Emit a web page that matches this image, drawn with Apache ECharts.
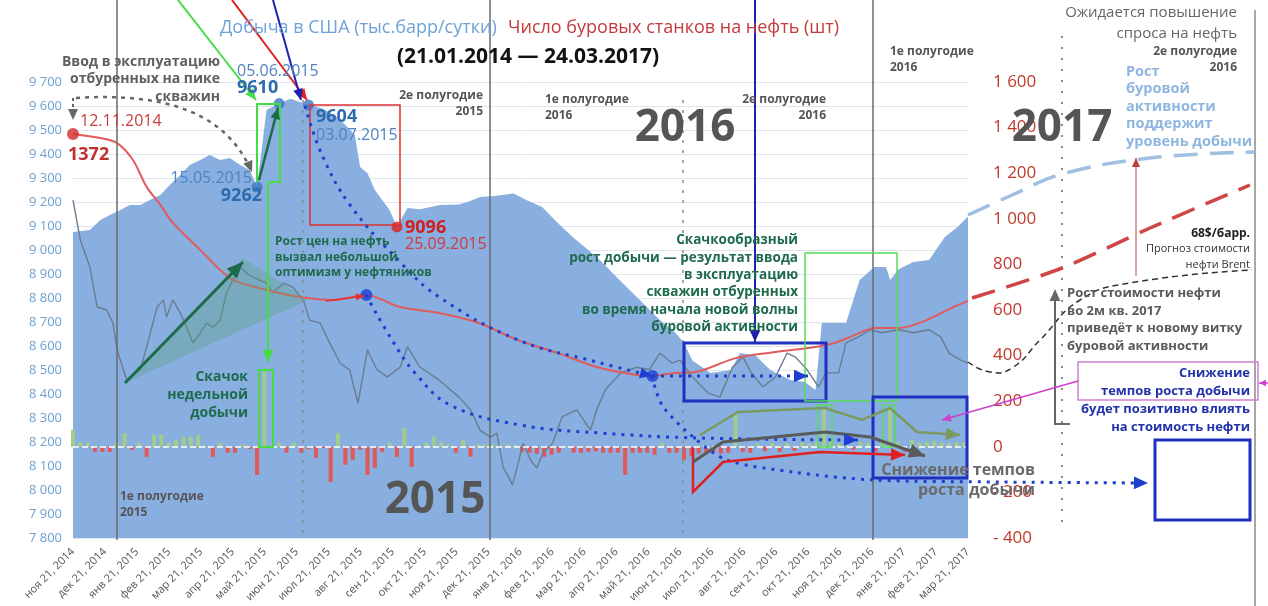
<!DOCTYPE html>
<html>
<head>
<meta charset="utf-8">
<script src="https://cdn.jsdelivr.net/npm/echarts@6.0.0/dist/echarts.min.js"></script>
<style>
  html, body { margin: 0; padding: 0; background: #fff; }
  #chart { width: 1268px; height: 606px; }
</style>
</head>
<body>
<div id="chart"></div>
<script>
const tickLabels = [
  "ноя 21, 2014", "дек 21, 2014", "янв 21, 2015", "фев 21, 2015", "мар 21, 2015",
  "апр 21, 2015", "май 21, 2015", "июн 21, 2015", "июл 21, 2015", "авг 21, 2015",
  "сен 21, 2015", "окт 21, 2015", "ноя 21, 2015", "дек 21, 2015", "янв 21, 2016",
  "фев 21, 2016", "мар 21, 2016", "апр 21, 2016", "май 21, 2016", "июн 21, 2016",
  "июл 21, 2016", "авг 21, 2016", "сен 21, 2016", "окт 21, 2016", "ноя 21, 2016",
  "дек 21, 2016", "янв 21, 2017", "фев 21, 2017", "мар 21, 2017",
];

// US crude production, thousand barrels per day
const prodDates = [
  "2014-11-21", "2014-12-07", "2014-12-17", "2014-12-26", "2015-01-05", "2015-01-14",
  "2015-01-24", "2015-02-02", "2015-02-12", "2015-02-21", "2015-03-03", "2015-03-12",
  "2015-03-22", "2015-03-31", "2015-04-10", "2015-04-19", "2015-04-29", "2015-05-08",
  "2015-05-15", "2015-05-24", "2015-06-05", "2015-06-16", "2015-07-03", "2015-07-09",
  "2015-07-19", "2015-07-28", "2015-08-07", "2015-08-16", "2015-08-21", "2015-08-28",
  "2015-09-04", "2015-09-18", "2015-09-25", "2015-10-05", "2015-10-17", "2015-11-05",
  "2015-11-23", "2015-12-01", "2015-12-13", "2015-12-27", "2016-01-14", "2016-01-26",
  "2016-02-10", "2016-02-25", "2016-03-10", "2016-04-02", "2016-04-17", "2016-05-10",
  "2016-06-01", "2016-06-16", "2016-06-24", "2016-07-02", "2016-07-19", "2016-08-08",
  "2016-08-16", "2016-08-31", "2016-09-14", "2016-10-03", "2016-10-17", "2016-10-27",
  "2016-11-02", "2016-11-25", "2016-12-08", "2016-12-22", "2017-01-02", "2017-01-06",
  "2017-01-14", "2017-01-28", "2017-02-12", "2017-02-27", "2017-03-11", "2017-03-21",
];
const prodValues = [
  9075, 9083, 9125, 9146, 9167, 9187, 9187, 9208, 9229, 9271, 9312, 9354,
  9375, 9396, 9375, 9383, 9354, 9333, 9262, 9583, 9610, 9630, 9604, 9600,
  9583, 9560, 9521, 9479, 9346, 9320, 9250, 9167, 9096, 9175, 9170, 9187,
  9190, 9200, 9221, 9225, 9235, 9208, 9179, 9113, 9054, 8971, 8904, 8804,
  8708, 8654, 8612, 8540, 8487, 8500, 8571, 8560, 8500, 8458, 8450, 8417,
  8696, 8696, 8875, 8929, 8929, 8875, 8920, 8950, 8958, 9054, 9096, 9140,
];

// oil rig count
const rigDates = [
  "2014-11-21", "2014-12-17", "2015-01-02", "2015-01-17", "2015-01-30", "2015-02-12",
  "2015-02-24", "2015-03-22", "2015-04-07", "2015-04-22", "2015-05-24", "2015-06-25",
  "2015-07-26", "2015-08-27", "2015-09-28", "2015-11-04", "2015-12-12", "2016-01-18",
  "2016-02-25", "2016-04-02", "2016-05-10", "2016-05-25", "2016-06-16", "2016-07-05",
  "2016-08-12", "2016-09-19", "2016-10-27", "2016-11-14", "2016-12-03", "2016-12-22",
  "2017-01-14", "2017-02-05", "2017-03-07", "2017-03-21",
];
const rigValues = [
  1372, 1354, 1332, 1258, 1140, 1061, 982, 863, 789, 732, 688, 657,
  644, 666, 613, 587, 543, 468, 411, 350, 315, 311, 324, 328,
  389, 416, 438, 455, 490, 521, 521, 547, 613, 640,
];

// Brent price, $ per barrel
const priceDates = [
  "2014-11-21", "2014-11-28", "2014-12-07", "2014-12-14", "2014-12-23", "2014-12-29",
  "2015-01-02", "2015-01-08", "2015-01-11", "2015-01-24", "2015-01-30", "2015-02-09",
  "2015-02-15", "2015-02-18", "2015-02-24", "2015-03-03", "2015-03-09", "2015-03-15",
  "2015-03-22", "2015-03-28", "2015-04-03", "2015-04-10", "2015-04-16", "2015-04-22",
  "2015-04-29", "2015-05-05", "2015-05-11", "2015-05-24", "2015-05-30", "2015-06-09",
  "2015-06-18", "2015-06-28", "2015-07-04", "2015-07-14", "2015-07-23", "2015-08-02",
  "2015-08-11", "2015-08-19", "2015-08-28", "2015-09-06", "2015-09-16", "2015-09-28",
  "2015-10-05", "2015-10-17", "2015-11-04", "2015-11-23", "2015-12-04", "2015-12-13",
  "2015-12-23", "2015-12-29", "2016-01-04", "2016-01-13", "2016-01-23", "2016-01-30",
  "2016-02-05", "2016-02-11", "2016-02-20", "2016-02-29", "2016-03-08", "2016-03-14",
  "2016-03-27", "2016-04-02", "2016-04-10", "2016-04-25", "2016-05-10", "2016-05-22",
  "2016-06-01", "2016-06-13", "2016-06-20", "2016-07-02", "2016-07-17", "2016-07-28",
  "2016-08-09", "2016-08-19", "2016-08-27", "2016-09-07", "2016-09-19", "2016-09-30",
  "2016-10-08", "2016-10-19", "2016-10-30", "2016-11-06", "2016-11-18", "2016-11-25",
  "2016-12-07", "2016-12-18", "2016-12-29", "2017-01-14", "2017-01-28", "2017-02-12",
  "2017-02-23", "2017-03-03", "2017-03-14", "2017-03-21",
];
const priceValues = [
  81.7, 73.8, 68.5, 60.6, 60.0, 57.4, 52.1, 48.2, 46.2, 48.2, 52.7, 60.6,
  62.0, 58.6, 62.0, 59.4, 56.6, 53.5, 55.5, 57.4, 56.6, 58.0, 63.4, 65.9,
  68.5, 67.3, 66.5, 65.3, 63.4, 65.3, 64.5, 62.0, 58.0, 57.4, 53.5, 49.5,
  48.2, 41.6, 52.1, 48.2, 46.8, 48.7, 52.7, 48.7, 46.2, 42.8, 40.3, 36.3,
  34.9, 35.7, 29.0, 25.5, 33.7, 30.4, 28.8, 31.8, 33.7, 38.9, 39.7, 40.3,
  36.3, 40.3, 44.2, 47.6, 48.7, 48.2, 51.5, 49.5, 50.1, 46.8, 43.6, 42.8,
  48.7, 50.7, 47.6, 44.8, 46.8, 51.5, 50.7, 48.2, 44.8, 47.6, 47.6, 53.5,
  54.7, 56.1, 55.5, 56.1, 55.5, 56.1, 54.7, 51.5, 50.1, 49.5,
];

// weekly change of production, from 2014-11-21
const barStart = "2014-11-21";
const barValues = [
  75, 22, 18, -22, -22, -22, 20, 60, -13, 18, -44, 52, 52, 18, 30, 44, 44, 52, 5, -44, 18,
  -26, -26, 10, -9, -123, 340, 8, 18, -26, 18, -26, -10, -48, -5, -154, 61, -79, -57, -13, -123, -92,
  -22, 18, -44, 83, -88, 5, 18, 44, 22, 10, -26, 31, -44, 10, 10, 10, 10, 10, 8, -22,
  -26, -31, -44, -35, -26, 5, -26, -26, -22, -20, -26, -26, -26, -123, -26, -26, -26, -35, 18, -26, -26, -57,
  -40, -30, -26, -22, -30, -26, 150, -22, -26, 15, -20, 18, -22, 15, -18, 20, 15, 22, 170,
  30, 15, 18, -13, 22, 18, -22, 30, 170, 20, -22, 30, 18, 22, 26, 18, 15, 22, 18,
];

const prodMarkDates = ["2015-05-15", "2015-06-05", "2015-07-03"];
const prodMarkValues = [9262, 9610, 9604];
const prodLowDates = ["2015-09-25"];
const prodLowValues = [9096];
const rigStartDates = ["2014-11-21"];
const rigStartValues = [1372];
const rigPivotDates = ["2015-08-27", "2016-05-25"];
const rigPivotValues = [666, 311];

const DAYS_PER_TICK = 851 / 28;
const t0 = Date.parse(barStart);
const monthPos = (s) => (Date.parse(s) - t0) / 86400000 / DAYS_PER_TICK;
const pairs = (dates, values) => dates.map((d, i) => [monthPos(d), values[i]]);
const spaced = (v) => String(Math.round(v)).replace(/\B(?=(\d{3})+(?!\d))/g, " ");

const FONT = '"Open Sans", "DejaVu Sans", sans-serif';
const G = [];

const txt = (x, y, text, font, fill, align = "left", va = "middle", lh) => {
  G.push({
    type: "text", x, y, z: 100, silent: true,
    style: { text, font: font + " " + FONT, fill, textAlign: align, textVerticalAlign: va, lineHeight: lh },
  });
};
const line = (pts, stroke, lineWidth, lineDash, smooth) => {
  G.push({
    type: "polyline", z: 90, silent: true,
    shape: { points: pts, smooth: smooth || 0 },
    style: { stroke, lineWidth, lineDash: lineDash || null, fill: null },
  });
};
const head = (p1, p2, fill, s) => {
  const a = Math.atan2(p2[1] - p1[1], p2[0] - p1[0]);
  const bx = p2[0] - s * Math.cos(a), by = p2[1] - s * Math.sin(a);
  const w = s * 0.45;
  G.push({
    type: "polygon", z: 91, silent: true,
    shape: { points: [p2, [bx + w * Math.sin(a), by - w * Math.cos(a)], [bx - w * Math.sin(a), by + w * Math.cos(a)]] },
    style: { fill },
  });
};
const arrow = (pts, stroke, lineWidth, lineDash, s, smooth) => {
  line(pts, stroke, lineWidth, lineDash, smooth);
  head(pts[pts.length - 2], pts[pts.length - 1], stroke, s || 10);
};
const box = (x1, y1, x2, y2, stroke, lineWidth) => {
  G.push({
    type: "rect", z: 90, silent: true,
    shape: { x: x1, y: y1, width: x2 - x1, height: y2 - y1 },
    style: { stroke, lineWidth, fill: null },
  });
};

// titles
txt(220, 28, "Добыча в США (тыс.барр/сутки)", "18px", "#6ea2d8");
txt(508, 28, "Число буровых станков на нефть (шт)", "18px", "#c23a3a");
txt(528, 57, "(21.01.2014 — 24.03.2017)", "bold 21px", "#111", "center");

// period dividers
[117, 490, 873].forEach((x) => line([[x, 0], [x, 540]], "#6a6a6a", 1.5));
[303, 683].forEach((x) => line([[x, 100], [x, 540]], "#8a8a8a", 1.5, [3, 7]));
line([[1062, 36], [1062, 530]], "#8a8a8a", 2, [2, 9]);
line([[1255, 10], [1255, 606]], "#8a8a8a", 1.5);

txt(483, 88, "2е полугодие\n2015", "bold 12px", "#555", "right", "top", 16);
txt(545, 92, "1е полугодие\n2016", "bold 12px", "#555", "left", "top", 16);
txt(826, 92, "2е полугодие\n2016", "bold 12px", "#555", "right", "top", 16);
txt(890, 44, "1е полугодие\n2016", "bold 12px", "#555", "left", "top", 16);
txt(1237, 44, "2е полугодие\n2016", "bold 12px", "#555", "right", "top", 16);
txt(120, 489, "1е полугодие\n2015", "bold 12px", "#555", "left", "top", 16);
txt(435, 500, "2015", "bold 44px", "#555", "center");
txt(685, 128, "2016", "bold 44px", "#555", "center");
txt(1062, 128, "2017", "bold 44px", "#555", "center");

// peak annotations
txt(220, 53, "Ввод в эксплуатацию\nотбуренных на пике\nскважин", "bold 14px", "#5f5f5f", "right", "top", 17.5);
G.push({
  type: "bezierCurve", z: 90, silent: true,
  shape: { x1: 76, y1: 98, cpx1: 170, cpy1: 92, cpx2: 225, cpy2: 115, x2: 250, y2: 168 },
  style: { stroke: "#666", lineWidth: 2.5, lineDash: [4, 5], fill: null },
});
head([243, 150], [252, 172], "#666", 11);
line([[73, 98], [73, 108]], "#666", 2, [3, 3]);
head([73, 105], [73, 120], "#666", 11);
txt(80, 121, "12.11.2014", "16px", "#c83c3c");
txt(68, 155, "1372", "bold 18px", "#c0302f");
txt(237, 71, "05.06.2015", "16px", "#4f82c0");
txt(237, 88, "9610", "bold 18px", "#2e6aae");
txt(316, 117, "9604", "bold 18px", "#2e6aae");
txt(316, 135, "03.07.2015", "16px", "#4f82c0");
txt(252, 178, "15.05.2015", "16px", "#4f82c0", "right");
txt(262, 196, "9262", "bold 18px", "#2e6aae", "right");
txt(405, 228, "9096", "bold 18px", "#d02020");
txt(405, 244, "25.09.2015", "16px", "#d03a3a");

arrow([[178, 0], [256, 100]], "#44dd44", 2, null, 11);
arrow([[232, 0], [307, 100]], "#e02020", 2, null, 11);
arrow([[273, 0], [301, 100]], "#2020b0", 2, null, 11);
line([[257, 182], [257, 104], [280, 104], [280, 182], [268, 182]], "#44dd44", 2);
arrow([[268, 182], [268, 362]], "#44dd44", 2, null, 12);
box(259, 370, 273, 447, "#44dd44", 2);
arrow([[259, 180], [278, 108]], "#1e6b4c", 2.5, null, 11);
box(310, 105, 400, 225, "#e03030", 1.5);

G.push({
  type: "polygon", z: 80, silent: true,
  shape: { points: [[125, 383], [243, 258], [308, 300]] },
  style: { fill: "rgba(90,160,120,0.35)" },
});
arrow([[125, 383], [243, 262]], "#1e6b4c", 3, null, 16);
arrow([[326, 301], [364, 296]], "#e03030", 1.5, null, 8);
txt(275, 234, "Рост цен на нефть\nвызвал небольшой\nоптимизм у нефтяников", "bold 12px", "#1e6b4c", "left", "top", 15.5);
txt(248, 368, "Скачок\nнедельной\nдобычи", "bold 14px", "#1e6b4c", "right", "top", 18);

// 2016 annotations
arrow([[305, 106], [322, 155], [350, 205], [400, 262], [439, 297], [518, 340], [597, 362], [652, 376]], "#1f3fd0", 3, [3, 6], 12, 0.4);
arrow([[652, 376], [808, 376]], "#1f3fd0", 3, [3, 6], 14);
arrow([[366, 295], [392, 340], [415, 373], [450, 405], [520, 425], [600, 433], [700, 438], [858, 440]], "#1f3fd0", 3, [3, 6], 14, 0.4);
arrow([[652, 376], [662, 405], [693, 437], [727, 460], [793, 472], [873, 480], [1000, 482], [1148, 483]], "#1f3fd0", 3, [3, 6], 14, 0.3);
arrow([[755, 0], [755, 342]], "#2020b0", 2, null, 12);
box(684, 343, 826, 401, "#1f2fc0", 3);
box(805, 253, 897, 401, "#55dd55", 1.5);
box(818, 405, 832, 447, "#55dd55", 1.5);
box(883, 405, 895, 447, "#55dd55", 1.5);
box(873, 397, 967, 478, "#1f2fc0", 3);
txt(798, 232, "Скачкообразный\nрост добычи — результат ввода\nв эксплуатацию\nскважин отбуренных\nво время начала новой волны\nбуровой активности", "bold 13.5px", "#1e6b4c", "right", "top", 17.3);

arrow([[693, 448], [693, 492], [723, 462], [820, 452], [905, 455]], "#e02020", 2.5, null, 14);
arrow([[693, 462], [723, 442], [825, 432], [870, 437], [925, 456]], "#5a5a5a", 3, null, 16);
arrow([[700, 435], [738, 412], [825, 408], [862, 420], [890, 408], [917, 432], [960, 435]], "#7a9a60", 2.5, null, 14);
txt(1035, 460, "Снижение темпов\nроста добычи", "bold 16px", "#6a6a6a", "right", "top", 20);

// 2017 outlook
line([[968, 215], [1010, 196], [1062, 174], [1150, 158], [1255, 152]], "#9fc0e0", 3.5, [24, 12], 0.4);
line([[972, 298], [1062, 268], [1150, 228], [1250, 185]], "#d04545", 3.5, [24, 12], 0.3);
arrow([[1136, 276], [1136, 158]], "#c04040", 1, null, 9);
line([[968, 362], [990, 372], [1012, 368], [1040, 340], [1080, 300], [1130, 283], [1252, 270]], "#333", 1.5, [6, 4], 0.5);
txt(1237, 2, "Ожидается повышение\nспроса на нефть", "15px", "#666", "right", "top", 21);
txt(1126, 63, "Рост\nбуровой\nактивности\nподдержит\nуровень добычи", "bold 14.5px", "#8fb6e0", "left", "top", 17.5);
txt(1250, 234, "68$/барр.", "bold 12px", "#222", "right");
txt(1250, 241, "Прогноз стоимости\nнефти Brent", "11px", "#333", "right", "top", 16);
line([[1070, 424], [1055, 424], [1055, 300]], "#666", 2);
head([1055, 305], [1055, 289], "#666", 12);
txt(1067, 285, "Рост стоимости нефти\nво 2м кв. 2017\nприведёт к новому витку\nбуровой активности", "bold 13px", "#5a5a5a", "left", "top", 17.5);
box(1078, 362, 1258, 400, "#d080d0", 1.5);
arrow([[1078, 381], [942, 420]], "#d040d0", 1.5, null, 9);
arrow([[1268, 383], [1259, 383]], "#d040d0", 1.5, null, 7);
txt(1250, 364, "Снижение\nтемпов роста добычи", "bold 13px", "#2233aa", "right", "top", 18);
txt(1250, 400, "будет позитивно влиять\nна стоимость нефти", "bold 13px", "#2233aa", "right", "top", 18);
box(1155, 440, 1250, 520, "#1f2fc0", 3);

const option = {
  animation: false,
  backgroundColor: "#fff",
  textStyle: { fontFamily: FONT },
  grid: { left: 73, right: 300, top: 82, bottom: 68 },
  xAxis: {
    type: "value", min: 0, max: 28, interval: 1,
    axisLine: { show: false }, axisTick: { show: false }, splitLine: { show: false },
    axisLabel: {
      rotate: 45, margin: 12, color: "#555", fontSize: 11,
      formatter: (v) => tickLabels[Math.round(v)] || "",
    },
  },
  yAxis: [
    {
      type: "value", min: 7800, max: 9700, interval: 100, position: "left",
      axisLine: { show: false }, axisTick: { show: false },
      axisLabel: { color: "#6c9fd3", fontSize: 13, margin: 11, formatter: spaced },
      splitLine: { lineStyle: { color: "rgba(200,212,228,0.6)" } },
    },
    {
      type: "value", min: -400, max: 1600, interval: 200, position: "right",
      axisLine: { show: false }, axisTick: { show: false }, splitLine: { show: false },
      axisLabel: {
        color: "#c0392b", fontSize: 17, margin: 25,
        formatter: (v) => (v < 0 ? "- " + spaced(-v) : spaced(v)),
      },
    },
    { type: "value", min: -400, max: 1600, show: false },
    { type: "value", min: 15, max: 105, show: false },
  ],
  series: [
    {
      name: "Добыча", type: "line", yAxisIndex: 0, z: 1,
      data: pairs(prodDates, prodValues),
      symbol: "none", lineStyle: { width: 0 },
      areaStyle: { color: "#88afe0", opacity: 1, origin: "start" },
      markArea: {
        silent: true,
        data: [
          [{ yAxis: 7800, itemStyle: { color: "#5b8fd0" } }, { yAxis: 7855 }],
          [{ yAxis: 7855, itemStyle: { color: "#a3c1e6" } }, { yAxis: 7905 }],
        ],
      },
    },
    {
      name: "Недельное изменение", type: "bar", yAxisIndex: 2, z: 2, barWidth: 4,
      data: barValues.map((v, i) => ({
        value: [i * 7 / DAYS_PER_TICK, v],
        itemStyle: { color: v >= 0 ? "#a3cc8c" : "#e05858" },
      })),
      markLine: {
        silent: true, symbol: "none", label: { show: false },
        lineStyle: { color: "#fff", type: "dashed", width: 1.5 },
        data: [{ yAxis: 0 }],
      },
    },
    {
      name: "Brent", type: "line", yAxisIndex: 3, z: 3,
      data: pairs(priceDates, priceValues),
      symbol: "none", lineStyle: { color: "#6b7c90", width: 1.4 },
    },
    {
      name: "Буровые", type: "line", yAxisIndex: 1, z: 4, smooth: 0.3,
      data: pairs(rigDates, rigValues),
      symbol: "none", lineStyle: { color: "#e05c5c", width: 2 },
    },
    {
      type: "scatter", yAxisIndex: 0, z: 6, symbolSize: 11,
      data: pairs(prodMarkDates, prodMarkValues), itemStyle: { color: "#3a78c0" },
    },
    {
      type: "scatter", yAxisIndex: 0, z: 6, symbolSize: 11,
      data: pairs(prodLowDates, prodLowValues), itemStyle: { color: "#e02020" },
    },
    {
      type: "scatter", yAxisIndex: 1, z: 6, symbolSize: 12,
      data: pairs(rigStartDates, rigStartValues), itemStyle: { color: "#d02a2a" },
    },
    {
      type: "scatter", yAxisIndex: 1, z: 6, symbolSize: 12,
      data: pairs(rigPivotDates, rigPivotValues), itemStyle: { color: "#1f3fd0" },
    },
  ],
  graphic: { elements: G },
};

const chart = echarts.init(document.getElementById("chart"));
chart.setOption(option);
</script>
</body>
</html>
